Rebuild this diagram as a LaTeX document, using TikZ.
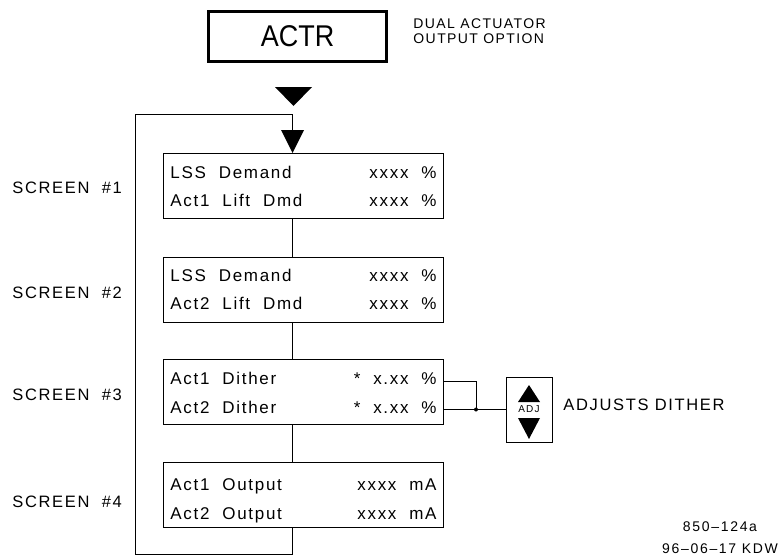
\documentclass[tikz,border=0pt]{standalone}
\usepackage{fontspec}
\setmainfont{Liberation Sans}
\newfontfamily\cadtxt[LetterSpace=10]{Liberation Sans}
\newfontfamily\cadcap[LetterSpace=10]{Liberation Sans}
\newfontfamily\cadnum[LetterSpace=12]{Liberation Sans}
\newfontfamily\cadbig[FakeStretch=0.9]{Liberation Sans}
\begin{document}
\begin{tikzpicture}[x=1pt,y=-1pt,line width=0.9pt,
  scr/.style={draw,rectangle,inner sep=0pt,minimum width=280pt,minimum height=65pt},
  ltxt/.style={anchor=base west,inner sep=0pt,font=\cadtxt\fontsize{17}{17}\selectfont},
  rtxt/.style={anchor=base east,inner sep=0pt,font=\cadtxt\fontsize{17}{17}\selectfont},
  lab/.style={anchor=base west,inner sep=0pt,font=\cadcap\fontsize{16.5}{16.5}\selectfont},
  small/.style={anchor=base west,inner sep=0pt,font=\cadcap\fontsize{14}{14}\selectfont},
  num/.style={anchor=base,inner sep=0pt,font=\cadnum\fontsize{14}{14}\selectfont},
  tri/.style={fill=black,draw=none}]
\useasboundingbox (0,0) rectangle (782,557);

% header
\node[draw,line width=3pt,inner sep=0pt,minimum width=178pt,minimum height=50pt,
      font=\cadbig\fontsize{30}{30}\selectfont] (actr) at (297.5,36.5) {ACTR};
\node[small] (dual) at (413,28) {DUAL ACTUATOR};
\node[small] (opt) at (413,43) {OUTPUT OPTION};
\fill[tri] (275,87) -- (312,87) -- (293.5,106) -- cycle;

% screens
\node[scr] (b1) at (303,185.5) {};
\node[scr] (b2) at (303,289.5) {};
\node[scr] (b3) at (303,392) {};
\node[scr] (b4) at (303,495) {};

\coordinate (t2) at (292.5,130);
\coordinate (lt) at (135,114);
\coordinate (lb) at (135,554);
\fill[tri] (281,130) -- (304,130) -- (292.5,153) -- cycle;

\draw (b1.south -| t2) -- (b2.north -| t2);
\draw (b2.south -| t2) -- (b3.north -| t2);
\draw (b3.south -| t2) -- (b4.north -| t2);
\draw (b4.south -| t2) |- (lb) -- (lt) -| (t2);

% screen labels
\node[lab] (s1) at (12,193) {SCREEN\ \ \#1};
\node[lab] (s2) at (12,298) {SCREEN\ \ \#2};
\node[lab] (s3) at (12,400) {SCREEN\ \ \#3};
\node[lab] (s4) at (12,507) {SCREEN\ \ \#4};

% box texts
\node[ltxt] (a1) at (170,178) {LSS\ \ Demand};
\node[ltxt] (a2) at (170,206) {Act1\ \ Lift\ \ Dmd};
\node[rtxt] (a3) at (437,178) {xxxx\ \ \%};
\node[rtxt] (a4) at (437,206) {xxxx\ \ \%};

\node[ltxt] (c1) at (170,281) {LSS\ \ Demand};
\node[ltxt] (c2) at (170,309) {Act2\ \ Lift\ \ Dmd};
\node[rtxt] (c3) at (437,281) {xxxx\ \ \%};
\node[rtxt] (c4) at (437,309) {xxxx\ \ \%};

\node[ltxt] (d1) at (170,384) {Act1\ \ Dither};
\node[ltxt] (d2) at (170,413) {Act2\ \ Dither};
\node[rtxt] (d3) at (437,384) {*\ \ x.xx\ \ \%};
\node[rtxt] (d4) at (437,413) {*\ \ x.xx\ \ \%};

\node[ltxt] (e1) at (170,490) {Act1\ \ Output};
\node[ltxt] (e2) at (170,519) {Act2\ \ Output};
\node[rtxt] (e3) at (437,490) {xxxx\ \ mA};
\node[rtxt] (e4) at (437,519) {xxxx\ \ mA};

% adjust
\node[draw,inner sep=0pt,minimum width=46pt,minimum height=65pt,
      font=\cadnum\fontsize{10}{10}\selectfont] (adj) at (529,409.5) {ADJ};
\fill[tri] (518,402) -- (540,402) -- (529,385) -- cycle;
\fill[tri] (518,418) -- (540,418) -- (529,439) -- cycle;
\coordinate (j) at (476,409.5);
\coordinate (r1) at (443,381);
\draw (r1) -| (j);
\draw (b3.east |- j) -- (adj.west);
\fill (j) circle (2pt);
\node[lab] (adjl) at (563,410) {ADJUSTS DITHER};

% drawing number
\node[num] (n1) at (720,531) {850–124a};
\node[num] (n2) at (720,553) {96–06–17 KDW};
\end{tikzpicture}
\end{document}
